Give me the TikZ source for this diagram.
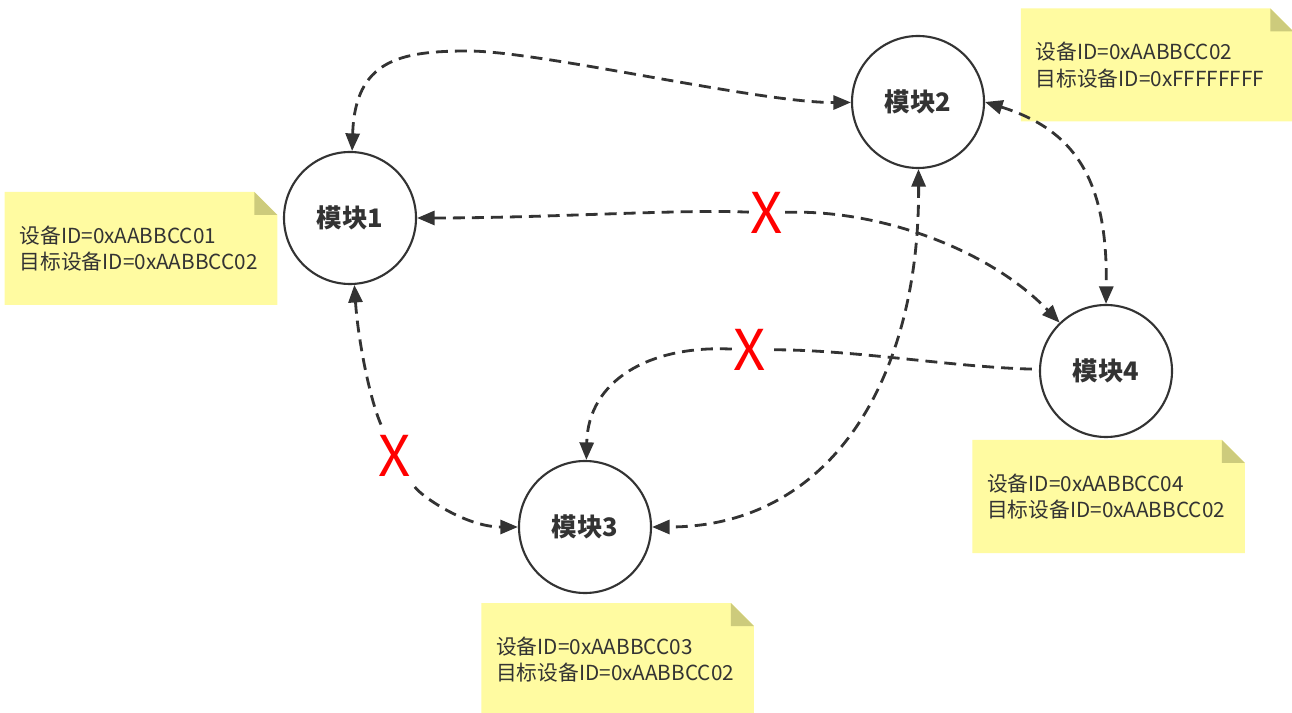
\documentclass[tikz,border=0pt]{standalone}
\usepackage{fontspec}
\setmainfont{Noto Sans CJK SC}
\usetikzlibrary{arrows.meta}
\definecolor{darkline}{HTML}{333333}
\definecolor{notefill}{HTML}{FFFBA1}
\definecolor{notefold}{HTML}{CDCB7C}
\begin{document}
\begin{tikzpicture}[scale=0.2]
    \tikzstyle{every node}+=[inner sep=0pt]
    \tikzstyle{module}=[circle, draw=darkline, line width=1.2pt, minimum size=2.64cm, text=darkline, font=\fontsize{14.5}{17}\selectfont\bfseries]
    \tikzstyle{note}=[rectangle, fill=white, minimum width=5.44cm, minimum height=2.26cm, text width=4.85cm, inner xsep=0.3cm, align=left, text=darkline, font=\fontsize{11.8}{15}\selectfont,
        path picture={
            \fill [notefill] (path picture bounding box.south west) -- (path picture bounding box.north west) -- ([xshift=-0.46cm]path picture bounding box.north east) -- ([yshift=-0.46cm]path picture bounding box.north east) -- (path picture bounding box.south east) -- cycle;
            \fill [notefold] ([xshift=-0.46cm]path picture bounding box.north east) -- ([xshift=-0.46cm,yshift=-0.46cm]path picture bounding box.north east) -- ([yshift=-0.46cm]path picture bounding box.north east) -- cycle;
        }]
    \tikzstyle{blockmark}=[text=red, inner sep=1pt, font=\fontsize{32}{32}\selectfont]
    \tikzstyle{link}=[darkline, line width=1.6pt, dash pattern=on 6.8pt off 4pt, >={Triangle[length=10pt,width=8pt]}]
    \useasboundingbox (0,0) rectangle (129.2,-71.3);
    % notes
    \node [note] (n1) at (14.1,-24.85) {设备ID=0xAABBCC01\\目标设备ID=0xAABBCC02};
    \node [note] (n2) at (115.7,-6.5) {设备ID=0xAABBCC02\\目标设备ID=0xFFFFFFFF};
    \node [note] (n4) at (110.85,-49.65) {设备ID=0xAABBCC04\\目标设备ID=0xAABBCC02};
    \node [note] (n3) at (61.75,-65.95) {设备ID=0xAABBCC03\\目标设备ID=0xAABBCC02};
    % modules
    \node [module] (m1) at (35,-21.8) {模块1};
    \node [module] (m2) at (91.8,-10.2) {模块2};
    \node [module] (m3) at (58.5,-52.7) {模块3};
    \node [module] (m4) at (110.6,-37.1) {模块4};
    % blocked marks
    \node [blockmark] (x1) at (76.7,-21.3) {X};
    \node [blockmark] (x2) at (75,-35) {X};
    \node [blockmark, inner sep=0.2cm] (x3) at (39.5,-45.6) {X};
    % links
    \draw [link, <->] (m1) .. controls (35.5,-6) and (40,-5.1) .. (46.8,-5.1) .. controls (54,-5.1) and (76,-10.3) .. (m2);
    \draw [link, <->] (m2.east) .. controls (107.5,-13) and (110.8,-18) .. (m4.north);
    \draw [link, <->] (m2) .. controls (92,-38) and (83,-52.7) .. (m3);
    % blocked links
    \draw [link, <-] (m1) .. controls (55,-21.8) and (68,-20.9) .. (x1);
    \draw [link, ->] (x1) .. controls (88,-20.9) and (99,-25) .. (m4);
    \draw [link, shorten <=4pt] (m4) .. controls (95,-36.7) and (85,-34.9) .. (x2);
    \draw [link, ->] (x2) .. controls (65,-34.5) and (58.8,-38) .. (m3);
    \draw [link, <-] (m1) .. controls (35.8,-34) and (37,-40) .. (x3);
    \draw [link, ->] (x3) .. controls (42,-49.5) and (46.5,-52.7) .. (m3);
\end{tikzpicture}
\end{document}
